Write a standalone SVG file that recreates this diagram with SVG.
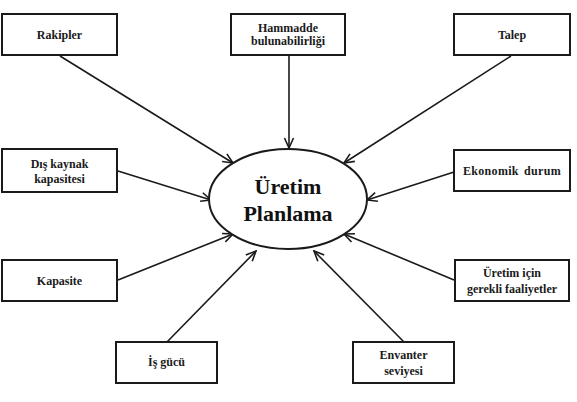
<svg xmlns="http://www.w3.org/2000/svg" width="577" height="402" viewBox="0 0 577 402">
<style>
.box{fill:#fff;stroke:#1a1a1a;stroke-width:2}
.t{font-weight:bold;font-size:12px;fill:#1a1a1a;text-anchor:middle}
.big{font-weight:bold;font-size:22px;fill:#111;text-anchor:middle}
.c{stroke:#1a1a1a;stroke-width:1.6;fill:none;marker-end:url(#ah)}
</style>
<defs>
<marker id="ah" viewBox="0 0 12 12" refX="11" refY="6" markerWidth="12" markerHeight="12" markerUnits="userSpaceOnUse" orient="auto">
<path d="M1,1.5 L11,6 L1,10.5" fill="none" stroke="#1a1a1a" stroke-width="1.6"/>
</marker>
</defs>
<g id="connectors">
<line class="c" x1="60" y1="56" x2="233" y2="163"/>
<line class="c" x1="289" y1="56" x2="289" y2="148"/>
<line class="c" x1="511" y1="56" x2="344" y2="163"/>
<line class="c" x1="118" y1="171" x2="211" y2="200"/>
<line class="c" x1="454" y1="172" x2="367" y2="200"/>
<line class="c" x1="118" y1="280" x2="233" y2="234"/>
<line class="c" x1="454" y1="280" x2="344" y2="234"/>
<line class="c" x1="167" y1="342" x2="256" y2="251"/>
<line class="c" x1="404" y1="342" x2="314" y2="251"/>
</g>
<g font-family="Liberation Serif, DejaVu Serif, serif">
<g id="center">
<ellipse cx="288" cy="199" rx="79" ry="50" fill="#fff" stroke="#1a1a1a" stroke-width="2"/>
<text class="big" x="288" y="194">Üretim</text>
<text class="big" x="288" y="221">Planlama</text>
</g>
<g id="rakipler"><rect class="box" x="2" y="14" width="115" height="41"/><text class="t" x="59.5" y="39">Rakipler</text></g>
<g id="hammadde"><rect class="box" x="231" y="14" width="114" height="41"/><text class="t" x="288" y="32">Hammadde</text><text class="t" x="288" y="45">bulunabilirliği</text></g>
<g id="talep"><rect class="box" x="454" y="14" width="116" height="41"/><text class="t" x="512" y="39">Talep</text></g>
<g id="dis-kaynak"><rect class="box" x="2" y="149" width="115" height="43"/><text class="t" x="59.5" y="168">Dış kaynak</text><text class="t" x="59.5" y="183">kapasitesi</text></g>
<g id="ekonomik"><rect class="box" x="454" y="150" width="116" height="41"/><text class="t" x="512" y="175" letter-spacing="0.3" word-spacing="2">Ekonomik durum</text></g>
<g id="kapasite"><rect class="box" x="2" y="260" width="115" height="41"/><text class="t" x="59.5" y="285">Kapasite</text></g>
<g id="uretim-icin"><rect class="box" x="455" y="260" width="114" height="41"/><text class="t" x="512" y="277">Üretim için</text><text class="t" x="512" y="293">gerekli faaliyetler</text></g>
<g id="is-gucu"><rect class="box" x="116" y="342" width="101" height="41"/><text class="t" x="166.5" y="366">İş gücü</text></g>
<g id="envanter"><rect class="box" x="353" y="342" width="101" height="41"/><text class="t" x="403.5" y="359">Envanter</text><text class="t" x="403.5" y="375">seviyesi</text></g>
</g>
</svg>
